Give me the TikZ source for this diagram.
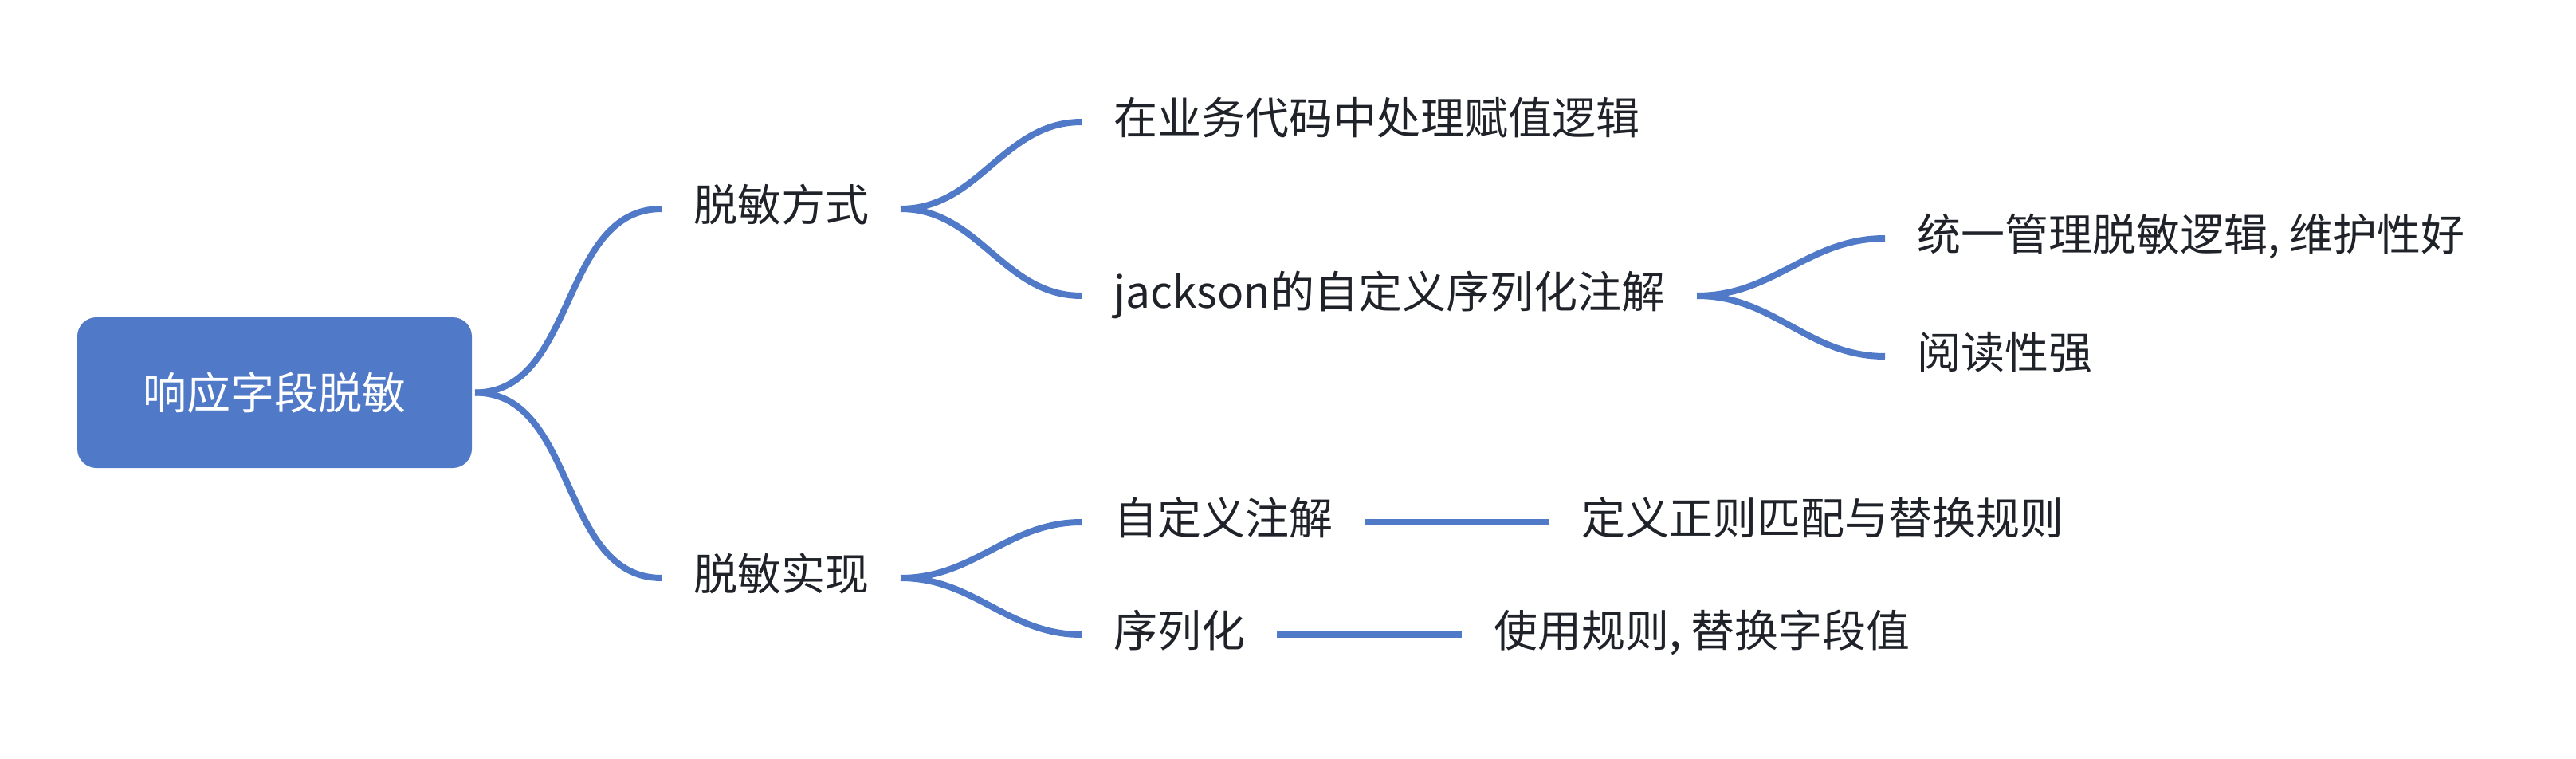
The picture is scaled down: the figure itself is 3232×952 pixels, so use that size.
\documentclass[tikz,border=0pt]{standalone}
\usepackage{fontspec}
\setmainfont{Noto Sans CJK SC}
\usetikzlibrary{positioning}
\definecolor{branch}{HTML}{5079C7}
\definecolor{ink}{HTML}{1F2329}
\begin{document}
\begin{tikzpicture}
	[x=0.25pt, y=-0.25pt,
	line width=2pt,
	font=\fontsize{13.75pt}{16pt}\selectfont,
	root/.style = {fill=branch, text=white, rounded corners=6pt, minimum width=123.75pt, minimum height=47.25pt},
	topic/.style = {text=ink, inner xsep=9pt, anchor=west, text height=0.88em, text depth=0.12em},
	link/.style = {draw=branch}]
\useasboundingbox (0,0) rectangle (3232,952);
\node[root] (1) at (344.5,492.5) {响应字段脱敏};
\node[topic] (2) at (830,262) {脱敏方式};
\node[topic] (3) at (830,725) {脱敏实现};
\node[topic] (4) at (1357,153) {在业务代码中处理赋值逻辑};
\node[topic] (5) at (1357,371) {jackson的自定义序列化注解};
\node[topic] (6) at (2365,299) {统一管理脱敏逻辑, 维护性好};
\node[topic] (7) at (2365,447) {阅读性强};
\node[topic] (8) at (1357,655) {自定义注解};
\node[topic] (9) at (1357,796) {序列化};
\node[topic] (10) [right=58pt of 8] {定义正则匹配与替换规则};
\node[topic] (11) [right=58pt of 9] {使用规则, 替换字段值};
\draw[link] (1.east) to [out=0, in=180] (2.west);
\draw[link] (1.east) to [out=0, in=180] (3.west);
\draw[link] (2.east) to [out=0, in=180] (4.west);
\draw[link] (2.east) to [out=0, in=180] (5.west);
\draw[link] (5.east) to [out=0, in=180] (6.west);
\draw[link] (5.east) to [out=0, in=180] (7.west);
\draw[link] (3.east) to [out=0, in=180] (8.west);
\draw[link] (3.east) to [out=0, in=180] (9.west);
\draw[link] (8) -- (10);
\draw[link] (9) -- (11);
\end{tikzpicture}
\end{document}
